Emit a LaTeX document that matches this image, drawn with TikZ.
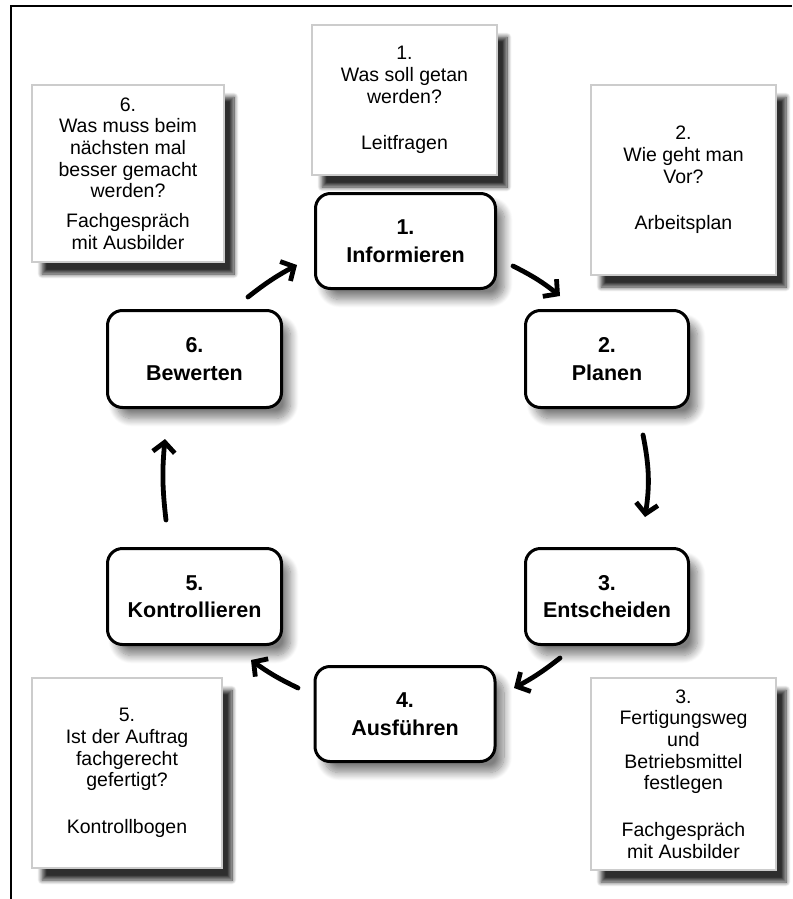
\documentclass[tikz,border=0pt]{standalone}
\usepackage{fontspec}
\setmainfont{Liberation Sans}
\usetikzlibrary{arrows.meta,shadows.blur}
\begin{document}
\begin{tikzpicture}[x=1pt,y=-1pt,
  note/.style={draw=black!20, line width=1.2pt, fill=white, inner sep=0pt,
    align=center, font=\fontsize{19.5}{21.7}\selectfont,
    blur shadow={shadow xshift=10pt, shadow yshift=-12pt, shadow opacity=82,
      shadow blur radius=4.5pt, shadow blur steps=10}},
  stepbox/.style={draw=black, line width=3pt, rounded corners=15pt, fill=white,
    inner sep=0pt, align=center, font=\bfseries\fontsize{21.5}{27.5}\selectfont,
    blur shadow={shadow xshift=9pt, shadow yshift=-11pt, shadow opacity=50,
      shadow blur radius=8pt, shadow blur steps=12}},
  flow/.style={line width=4.8pt, line cap=round,
    -{Straight Barb[length=10pt,width=22pt]}}
]
\useasboundingbox (0,0) rectangle (792,899);

% outer frame (top and left edges)
\draw[line width=2pt] (11,899) -- (11,6) -- (792,6);

% explanatory notes
\node[note, minimum width=185pt, minimum height=150pt] (n1) at (404.5,100)
  {1.\\Was soll getan\\werden?\\[25pt]Leitfragen};
\node[note, minimum width=185pt, minimum height=190pt] (n2) at (683.5,180)
  {2.\\Wie geht man\\Vor?\\[25pt]Arbeitsplan};
\node[note, minimum width=185pt, minimum height=192pt] (n3) at (683.5,774)
  {3.\\Fertigungsweg\\und\\Betriebsmittel\\festlegen\\[25pt]Fachgespräch\\mit Ausbilder};
\node[note, minimum width=190pt, minimum height=190pt] (n5) at (127,773)
  {5.\\Ist der Auftrag\\fachgerecht\\gefertigt?\\[25pt]Kontrollbogen};
\node[note, minimum width=192pt, minimum height=177pt] (n6) at (128,173.5)
  {6.\\Was muss beim\\nächsten mal\\besser gemacht\\werden?\\[8pt]Fachgespräch\\mit Ausbilder};

% process steps
\node[stepbox, minimum width=180pt, minimum height=95pt] (b1) at (405.5,241) {1.\\Informieren};
\node[stepbox, minimum width=163pt, minimum height=97pt] (b2) at (607,359) {2.\\Planen};
\node[stepbox, minimum width=163pt, minimum height=96pt] (b3) at (607,596.5) {3.\\Entscheiden};
\node[stepbox, minimum width=180pt, minimum height=95pt] (b4) at (405,714) {4.\\Ausführen};
\node[stepbox, minimum width=174pt, minimum height=96pt] (b5) at (194.5,596.5) {5.\\Kontrollieren};
\node[stepbox, minimum width=174pt, minimum height=97pt] (b6) at (194.5,359) {6.\\Bewerten};

% arrow ends
\coordinate (a1s) at (513,266); \coordinate (a1e) at (560,296);
\coordinate (a2s) at (643,435); \coordinate (a2e) at (645,517);
\coordinate (a3s) at (560,658); \coordinate (a3e) at (514,688);
\coordinate (a4s) at (298,688); \coordinate (a4e) at (251,660);
\coordinate (a5s) at (166,520); \coordinate (a5e) at (165,439);
\coordinate (a6s) at (248,297); \coordinate (a6e) at (297,265);

% cycle arrows, each bowing slightly outwards
\draw[flow] (a1s) to[bend left=6] (a1e);
\draw[flow] (a2s) to[bend left=10] (a2e);
\draw[flow] (a3s) to[bend left=5] (a3e);
\draw[flow] (a4s) to[bend left=5] (a4e);
\draw[flow] (a5s) to[bend left=6] (a5e);
\draw[flow] (a6s) to[bend left=5] (a6e);
\end{tikzpicture}
\end{document}
